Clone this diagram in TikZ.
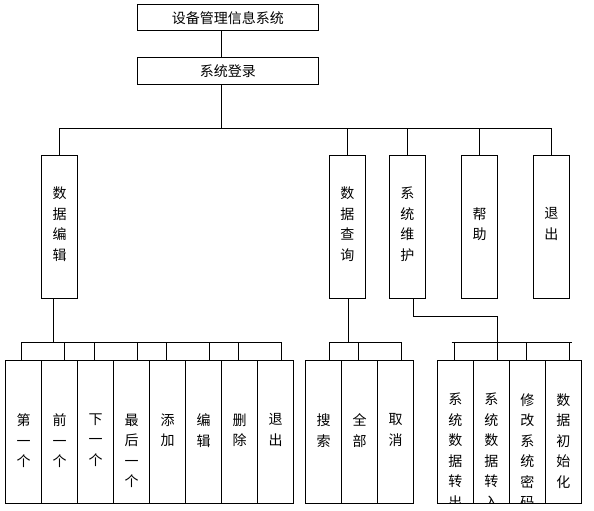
\documentclass[tikz,border=0pt]{standalone}
\usepackage{fontspec}
\usetikzlibrary{positioning}
\newfontfamily\cjk{Noto Sans CJK SC}
\tikzset{
	link/.style={line width=1pt},
	titlebox/.style={draw, line width=1pt, minimum width=181pt, minimum height=26.5pt, inner sep=0pt, text height=12pt, text depth=0pt, font=\cjk\fontsize{14}{16}\selectfont},
	coltext/.style={inner sep=0pt, align=center, font=\cjk\fontsize{14}{20.5}\selectfont},
	modbox/.style={draw, line width=1pt, minimum width=36pt, minimum height=143pt, inner sep=0pt},
	leafbox/.style={draw, line width=1pt, minimum width=36pt, minimum height=143.3pt, inner sep=0pt}
}
\begin{document}
\begin{tikzpicture}[x=1pt, y=-1pt]
		\fill[white] (0,0) rectangle (594,511);
		% Haut
		\node[titlebox] (sys) at (227.8,17.7) {设备管理信息系统};
		\node[titlebox, minimum height=27pt] (login) at (227.8,70.8) {系统登录};
		\draw[link] ([xshift=-6pt]sys.south) -- ([xshift=-6pt]login.north);
		
		% Modules
		\node[modbox] (edit) at (59.5,226.8) {};
		\node[modbox] (query) at (347.3,226.8) {};
		\node[modbox] (maint) at (407.3,226.8) {};
		\node[modbox] (help) at (479.5,226.8) {};
		\node[modbox] (quit) at (551.3,226.8) {};
		\node[coltext, below=32pt of edit.north] (editT) {数\\据\\编\\辑};
		\node[coltext, below=32pt of query.north] (queryT) {数\\据\\查\\询};
		\node[coltext, below=32pt of maint.north] (maintT) {系\\统\\维\\护};
		\node[coltext, below=52.5pt of help.north] (helpT) {帮\\助};
		\node[coltext, below=52.5pt of quit.north] (quitT) {退\\出};
		\coordinate (bus) at (0,128.3);
		\draw[link] (edit.north |- bus) -- (quit.north |- bus);
		\draw[link] ([xshift=-6pt]login.south) -- ([xshift=-6pt]login.south |- bus);
		\draw[link] (edit.north) -- (edit.north |- bus)
			(query.north) -- (query.north |- bus)
			(maint.north) -- (maint.north |- bus)
			(help.north) -- (help.north |- bus)
			(quit.north) -- (quit.north |- bus);
		
		% Feuilles
		\node[leafbox] (first) at (23.7,431.7) {};
		\node[leafbox] (prev) at (59.7,431.7) {};
		\node[leafbox] (next) at (95.7,431.7) {};
		\node[leafbox] (last) at (131.7,431.7) {};
		\node[leafbox] (add) at (167.7,431.7) {};
		\node[leafbox] (modify) at (203.7,431.7) {};
		\node[leafbox] (del) at (239.7,431.7) {};
		\node[leafbox] (back) at (275.7,431.7) {};
		\node[leafbox] (search) at (323.5,431.7) {};
		\node[leafbox] (all) at (359.7,431.7) {};
		\node[leafbox] (cancel) at (395.7,431.7) {};
		\node[leafbox] (export) at (455.3,431.7) {};
		\node[leafbox] (import) at (491.3,431.7) {};
		\node[leafbox] (passwd) at (527.3,431.7) {};
		\node[leafbox] (init) at (563.3,431.7) {};
		\node[coltext, below=54pt of first.north] (firstT) {第\\一\\个};
		\node[coltext, below=54pt of prev.north] (prevT) {前\\一\\个};
		\node[coltext, below=54pt of next.north] (nextT) {下\\一\\个};
		\node[coltext, below=54pt of last.north] (lastT) {最\\后\\一\\个};
		\node[coltext, below=54pt of add.north] (addT) {添\\加};
		\node[coltext, below=54pt of modify.north] (modifyT) {编\\辑};
		\node[coltext, below=54pt of del.north] (delT) {删\\除};
		\node[coltext, below=54pt of back.north] (backT) {退\\出};
		\node[coltext, below=54pt of search.north] (searchT) {搜\\索};
		\node[coltext, below=54pt of all.north] (allT) {全\\部};
		\node[coltext, below=54pt of cancel.north] (cancelT) {取\\消};
		\begin{scope}
			\clip (export.north west) rectangle (init.south east);
			\node[coltext, below=33.5pt of export.north] (exportT) {系\\统\\数\\据\\转\\出};
			\node[coltext, below=33.5pt of import.north] (importT) {系\\统\\数\\据\\转\\入};
			\node[coltext, below=33.5pt of passwd.north] (passwdT) {修\\改\\系\\统\\密\\码};
			\node[coltext, below=33.5pt of init.north] (initT) {数\\据\\初\\始\\化};
		\end{scope}
		\coordinate (ebus) at (0,342.3);
		\coordinate (knee) at (0,316);
		
		\draw[link] ([xshift=-6pt]edit.south) -- ([xshift=-6pt]edit.south |- ebus);
		\draw[link] ([xshift=-2.4pt]first.north |- ebus) -- ([xshift=6pt]back.north |- ebus);
		\draw[link] ([xshift=-2.4pt]first.north) -- ++(0,-17.7)
			([xshift=4.6pt]prev.north) -- ++(0,-17.7)
			([xshift=-1pt]next.north) -- ++(0,-17.7)
			([xshift=5.6pt]last.north) -- ++(0,-17.7)
			([xshift=-1.4pt]add.north) -- ++(0,-17.7)
			([xshift=6pt]modify.north) -- ++(0,-17.7)
			([xshift=-1pt]del.north) -- ++(0,-17.7)
			([xshift=6pt]back.north) -- ++(0,-17.7);
		
		\draw[link] ([xshift=1.4pt]query.south) -- ([xshift=1.4pt]query.south |- ebus);
		\draw[link] ([xshift=5.8pt]search.north |- ebus) -- ([xshift=5.6pt]cancel.north |- ebus);
		\draw[link] ([xshift=5.8pt]search.north) -- ++(0,-17.7)
			([xshift=-1pt]all.north) -- ++(0,-17.7)
			([xshift=5.6pt]cancel.north) -- ++(0,-17.7);
		
		\draw[link] ([xshift=6pt]maint.south) |- ([xshift=6.4pt]import.north |- knee) -- ([xshift=6.4pt]import.north);
		\draw[link] ([xshift=-3.6pt]export.north |- ebus) -- ([xshift=8.4pt]init.north |- ebus);
		\draw[link] ([xshift=-0.6pt]export.north) -- ++(0,-17.7)
			([xshift=-0.6pt]passwd.north) -- ++(0,-17.7)
			([xshift=6pt]init.north) -- ++(0,-17.7);
	\end{tikzpicture}
\end{document}
